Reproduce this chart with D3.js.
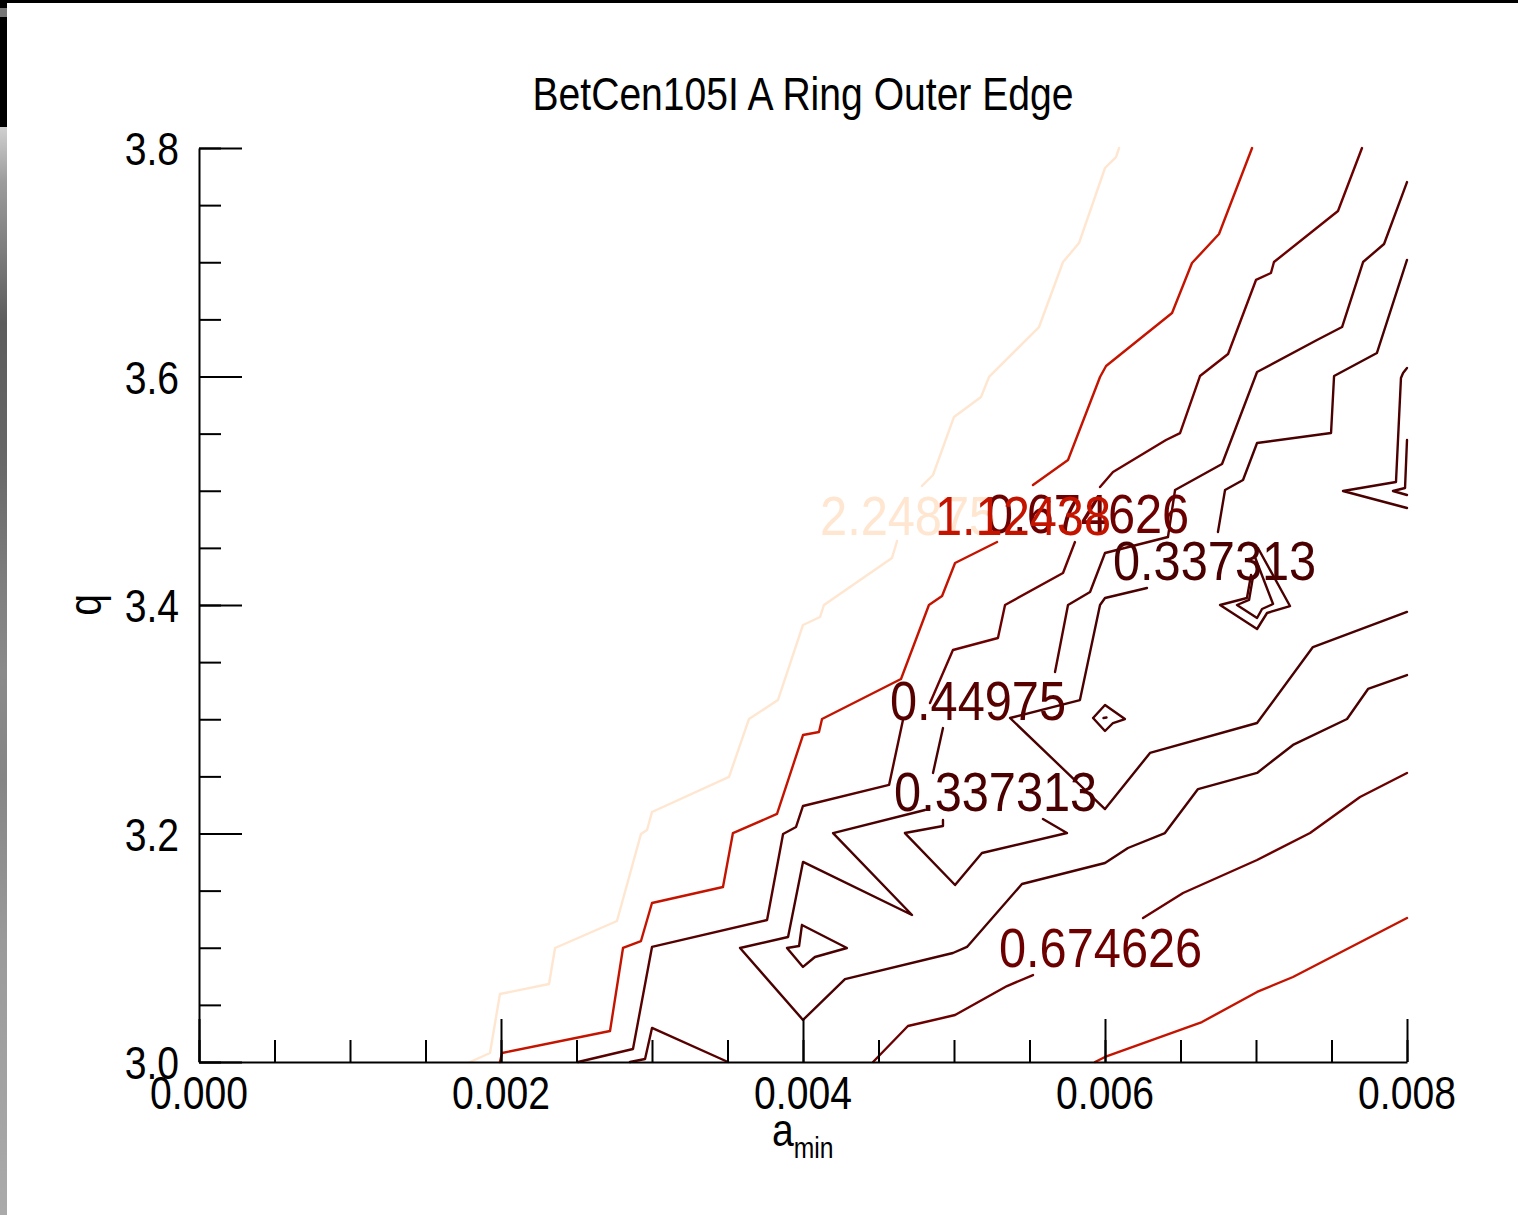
<!DOCTYPE html>
<html>
<head>
<meta charset="utf-8">
<script src="https://cdn.jsdelivr.net/npm/d3@7"></script>
<style>
  html, body { margin: 0; padding: 0; background: #fff; }
  svg { display: block; }
  text { font-family: "Liberation Sans", Arial, sans-serif; }
</style>
</head>
<body>
<script>
// ---------------- DATA ----------------
const chartTitle = "BetCen105I A Ring Outer Edge";
const xTickValues = [0.000, 0.002, 0.004, 0.006, 0.008];
const xTickLabels = ["0.000", "0.002", "0.004", "0.006", "0.008"];
const xMinorValues = d3.range(0, 0.00801, 0.0005);
const yTickValues = [3.0, 3.2, 3.4, 3.6, 3.8];
const yTickLabels = ["3.0", "3.2", "3.4", "3.6", "3.8"];
const yMinorValues = d3.range(3.0, 3.801, 0.05);

// contour levels and their colours
const levels = [0.337313, 0.44975, 0.674626, 1.12438, 2.24875];
const levelColors = ["#4a0000", "#560000", "#6c0000", "#c41400", "#ffe6d0"];

// contour polylines: [a_min, q]
const c2_24875_low = [[0.001795,3.000],[0.001927,3.0079],[0.001993,3.0595],[0.002318,3.0683],[0.002358,3.0998],[0.002768,3.1234],[0.002927,3.1996],[0.002967,3.2031],[0.003000,3.2188],[0.003510,3.2495],[0.003642,3.3002],[0.003834,3.3168],[0.004000,3.3825],[0.004113,3.3895],[0.004139,3.4000],[0.004589,3.4411],[0.004623,3.4560]];
const c2_24875_high = [[0.004788,3.5042],[0.004861,3.5138],[0.005000,3.5646],[0.005179,3.5821],[0.005232,3.5996],[0.005563,3.6433],[0.005722,3.7002],[0.005828,3.7168],[0.006000,3.7825],[0.006073,3.7921],[0.006093,3.8000]];
const c1_12438_low = [[0.001993,3.000],[0.002007,3.0079],[0.002722,3.0271],[0.002808,3.0998],[0.002927,3.1059],[0.003000,3.1392],[0.003470,3.1532],[0.003536,3.2004],[0.003828,3.2171],[0.004000,3.2862],[0.004106,3.2888],[0.004126,3.3002],[0.004649,3.3352],[0.004834,3.4000],[0.004921,3.4079],[0.005007,3.4368],[0.005285,3.4551]];
const c1_12438_high = [[0.005523,3.5050],[0.005755,3.5269],[0.005967,3.5996],[0.006007,3.6092],[0.006444,3.6556],[0.006576,3.6993],[0.006755,3.7247],[0.006974,3.8000]];
const c1_12438_right = [[0.005934,3.000],[0.006000,3.0044],[0.006642,3.0350],[0.007007,3.0613],[0.007245,3.0744],[0.008000,3.1260]];
const c0_674626_mid = [[0.004841,3.3142],[0.004993,3.3606],[0.005291,3.3711],[0.005338,3.4000],[0.005722,3.4280],[0.005801,3.4551]];
const c0_674626_top = [[0.005967,3.5033],[0.006053,3.5164],[0.006404,3.5444],[0.006497,3.5505],[0.006629,3.6004],[0.006815,3.6197],[0.007000,3.6845],[0.007099,3.6906],[0.007119,3.7002],[0.007543,3.7449],[0.007702,3.8000]];
const c0_674626_botL = [[0.004464,3.000],[0.004695,3.0315],[0.005007,3.0411],[0.005351,3.0665],[0.005523,3.0761]];
const c0_674626_botR = [[0.006252,3.1260],[0.006517,3.1479],[0.007007,3.1768],[0.007358,3.2004],[0.007689,3.2319],[0.008000,3.2530]];
const c0_44975_low = [[0.002510,3.000],[0.002874,3.0114],[0.003000,3.1007],[0.003762,3.1243],[0.003868,3.1996],[0.003954,3.2057],[0.004000,3.2241],[0.004570,3.2425],[0.004662,3.2993]];
const c0_44975_high = [[0.005669,3.3414],[0.005755,3.4000],[0.005901,3.4114],[0.006000,3.4455],[0.006417,3.4595],[0.006464,3.5007],[0.006775,3.5234],[0.007007,3.6039],[0.007404,3.6319],[0.007570,3.6433],[0.007709,3.7002],[0.007848,3.7160],[0.008000,3.7702]];
const c0_44975_foot = [[0.002854,3.000],[0.002954,3.0026],[0.003000,3.0298],[0.003503,3.000]];
const c0_337313_top = [[0.006748,3.4639],[0.006795,3.5007],[0.006914,3.5094],[0.007007,3.5418],[0.007497,3.5505],[0.007517,3.6004],[0.007801,3.6206],[0.008000,3.7020]];
const c0_337313_stub = [[0.004927,3.2923],[0.004861,3.2530]];
const c0_337313_loop = [[0.004927,3.2118],[0.004927,3.2066],[0.004675,3.2004],[0.005007,3.1549],[0.005185,3.1829],[0.005748,3.2004],[0.005589,3.2127]];
const c0_337313_wedge = [[0.004808,3.2206],[0.004199,3.2004],[0.004722,3.1287],[0.004000,3.1751],[0.003901,3.1094],[0.003583,3.0998],[0.004000,3.0368],[0.004278,3.0726],[0.004993,3.0954],[0.005086,3.1007],[0.005450,3.1558],[0.006000,3.1742],[0.006152,3.1873],[0.006397,3.2004],[0.006616,3.2389],[0.007007,3.2530],[0.007245,3.2775],[0.007603,3.3002],[0.007742,3.3265],[0.008000,3.3387]];
const c0_337313_vee = [[0.006278,3.4149],[0.006000,3.4061],[0.005967,3.4000],[0.005834,3.3168],[0.005371,3.3011],[0.006000,3.2214],[0.006298,3.2705],[0.007007,3.2967],[0.007377,3.3632],[0.008000,3.3939]];
const low_isleA = [[0.003993,3.1199],[0.004291,3.0998],[0.004079,3.0919],[0.004000,3.0832],[0.003894,3.0998],[0.003974,3.1015],[0.003993,3.1199]];
const low_isleB = [[0.005921,3.3011],[0.006000,3.3125],[0.006132,3.3002],[0.006053,3.2967],[0.006000,3.2897],[0.005921,3.3011]];
const low_isleB_core = [[0.005990,3.3011],[0.006010,3.3015]];
const low_hookOuter = [[0.007013,3.4499],[0.007225,3.3991],[0.007073,3.3930],[0.007007,3.3790],[0.006762,3.4000],[0.006940,3.4061],[0.006967,3.4263]];
const low_hookInner = [[0.006993,3.4420],[0.007113,3.4009],[0.007040,3.3965],[0.007007,3.3886],[0.006874,3.4000],[0.006954,3.4044],[0.006980,3.4245]];
const low_edgeOuter = [[0.008000,3.6074],[0.007974,3.6031],[0.007960,3.5987],[0.007927,3.5077],[0.007576,3.4998],[0.008000,3.4849]];
const low_edgeInner = [[0.008000,3.5444],[0.007987,3.5024],[0.007907,3.4998],[0.008000,3.4963]];

// contour labels
const labelTexts  = ["2.24875", "0.674626", "1.12438", "0.337313", "0.44975", "0.337313", "0.674626"];
const labelLevels = [2.24875, 0.674626, 1.12438, 0.337313, 0.44975, 0.337313, 0.674626];
const labelA      = [0.004113, 0.005212, 0.004874, 0.006053, 0.004576, 0.004603, 0.005298];
const labelQ      = [3.4613, 3.4630, 3.4613, 3.4219, 3.2993, 3.2197, 3.0832];

// ---------------- DRAWING ----------------
const W = 1518, H = 1215;
const svg = d3.select("body").append("svg").attr("width", W).attr("height", H);
svg.append("rect").attr("width", W).attr("height", H).attr("fill", "#fff");

// frame artefacts of the screenshot
const grad = svg.append("defs").append("linearGradient")
  .attr("id", "strip").attr("x1", 0).attr("x2", 0).attr("y1", 0).attr("y2", 1);
[[0, "#d0d0d0"], [0.05, "#9c9c9c"], [0.12, "#7a7a7a"], [0.18, "#5c5c5c"], [0.3, "#666"], [0.42, "#7e7e7e"],
 [0.5, "#8a8a8a"], [0.6, "#858585"], [0.75, "#9a9a9a"], [1, "#aaaaaa"]]
  .forEach(s => grad.append("stop").attr("offset", s[0]).attr("stop-color", s[1]));
svg.append("rect").attr("x", 0).attr("y", 127).attr("width", 7).attr("height", H - 127).attr("fill", "url(#strip)");
svg.append("rect").attr("x", 0).attr("y", 0).attr("width", 7).attr("height", 127).attr("fill", "#000");
svg.append("rect").attr("x", 0).attr("y", 8).attr("width", 7).attr("height", 9).attr("fill", "#777");
svg.append("rect").attr("x", 0).attr("y", 0).attr("width", W).attr("height", 3).attr("fill", "#000");

const x = d3.scaleLinear().domain([0, 0.008]).range([199, 1407]);
const y = d3.scaleLinear().domain([3.0, 3.8]).range([1062, 148]);
const colorOf = lv => levelColors[levels.indexOf(lv)];

function addText(parent, str, px, py, size, anchor, color, sx) {
  return parent.append("text")
    .attr("transform", `translate(${px},${py}) scale(${sx || 0.85},1)`)
    .attr("text-anchor", anchor)
    .attr("font-size", size)
    .attr("fill", color)
    .text(str);
}

// title
addText(svg, chartTitle, 803, 110, 46, "middle", "#000");

// contour lines
const line = d3.line().x(d => x(d[0])).y(d => y(d[1]));
const contourSet = [
  [c2_24875_low, 2.24875], [c2_24875_high, 2.24875],
  [c1_12438_low, 1.12438], [c1_12438_high, 1.12438], [c1_12438_right, 1.12438],
  [c0_674626_mid, 0.674626], [c0_674626_top, 0.674626], [c0_674626_botL, 0.674626], [c0_674626_botR, 0.674626],
  [c0_44975_low, 0.44975], [c0_44975_high, 0.44975], [c0_44975_foot, 0.44975],
  [c0_337313_top, 0.337313], [c0_337313_stub, 0.337313], [c0_337313_loop, 0.337313],
  [c0_337313_wedge, 0.337313], [c0_337313_vee, 0.337313],
  [low_isleA, 0.337313], [low_isleB, 0.337313], [low_isleB_core, 0.337313],
  [low_hookOuter, 0.337313], [low_hookInner, 0.337313],
  [low_edgeOuter, 0.337313], [low_edgeInner, 0.337313]
];
svg.append("g").selectAll("path").data(contourSet).join("path")
  .attr("d", d => line(d[0]))
  .attr("fill", "none")
  .attr("stroke", d => colorOf(d[1]))
  .attr("stroke-width", 2.4)
  .attr("stroke-linejoin", "round")
  .attr("stroke-linecap", "round");

// contour labels
const lblG = svg.append("g");
labelTexts.forEach((t, i) => {
  addText(lblG, t, x(labelA[i]), y(labelQ[i]), 56, "start", colorOf(labelLevels[i]), 0.87);
});

// axes
const yMajor = svg.append("g").attr("transform", "translate(199,0)")
  .call(d3.axisRight(y).tickValues(yTickValues).tickSize(43).tickSizeOuter(0).tickFormat(""));
const yMinor = svg.append("g").attr("transform", "translate(199,0)")
  .call(d3.axisRight(y).tickValues(yMinorValues).tickSize(22).tickSizeOuter(0).tickFormat(""));
const xMajor = svg.append("g").attr("transform", "translate(0,1062)")
  .call(d3.axisTop(x).tickValues(xTickValues).tickSize(43).tickSizeOuter(0).tickFormat(""));
const xMinor = svg.append("g").attr("transform", "translate(0,1062)")
  .call(d3.axisTop(x).tickValues(xMinorValues).tickSize(22).tickSizeOuter(0).tickFormat(""));
[yMajor, yMinor, xMajor, xMinor].forEach(g => {
  g.selectAll("path, line").attr("stroke", "#000").attr("stroke-width", 2);
});
yMinor.select(".domain").remove();
xMinor.select(".domain").remove();

// tick labels
yTickValues.forEach((v, i) => addText(svg, yTickLabels[i], 179, y(v) + 17, 46, "end", "#000"));
xTickValues.forEach((v, i) => addText(svg, xTickLabels[i], x(v), 1109, 46, "middle", "#000"));

// axis titles
const xt = svg.append("text")
  .attr("transform", "translate(772,1146) scale(0.85,1)")
  .attr("font-size", 46).attr("fill", "#000");
xt.append("tspan").text("a");
xt.append("tspan").attr("font-size", 29).attr("dy", 12).text("min");
svg.append("text")
  .attr("transform", "translate(101,605) rotate(-90) scale(0.85,1)")
  .attr("text-anchor", "middle").attr("font-size", 46).attr("fill", "#000").text("q");
</script>
</body>
</html>
